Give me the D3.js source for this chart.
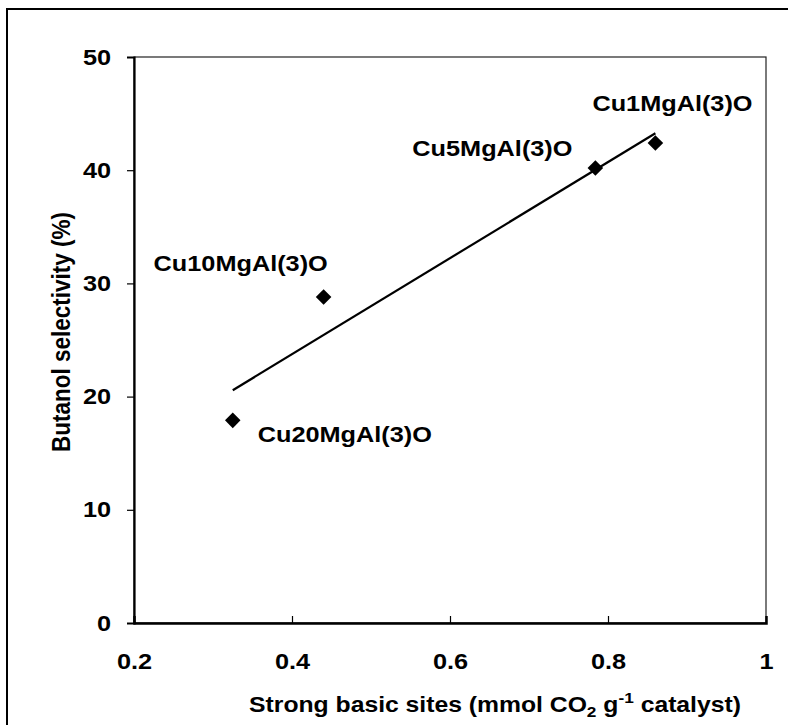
<!DOCTYPE html>
<html>
<head>
<meta charset="utf-8">
<script src="https://cdn.jsdelivr.net/npm/d3@7"></script>
<style>
  html, body { margin: 0; padding: 0; background: #fff; }
  svg { display: block; }
  text { font-family: "Liberation Sans", Arial, sans-serif; font-weight: bold; fill: #000; }
</style>
</head>
<body>
<svg id="chart" width="788" height="725"></svg>
<script>
// Catalyst samples: strong basic sites vs. butanol selectivity
const catalysts = ["Cu1MgAl(3)O", "Cu5MgAl(3)O", "Cu10MgAl(3)O", "Cu20MgAl(3)O"];
const basicSites = [0.86, 0.784, 0.44, 0.325];
const selectivity = [42.4, 40.2, 28.8, 17.9];

const xTicks = [0.2, 0.4, 0.6, 0.8, 1];
const yTicks = [0, 10, 20, 30, 40, 50];

const W = 788, H = 725;
const plot = { left: 134, right: 766, top: 57, bottom: 623 };
const WIDE = 1.15;   // horizontal stretch applied to the lettering

const svg = d3.select("#chart");

// outer frame (runs off the right and bottom edges)
svg.append("rect")
  .attr("x", 7).attr("y", 9)
  .attr("width", W + 20).attr("height", H + 20)
  .attr("fill", "none").attr("stroke", "#000").attr("stroke-width", 2);

const x = d3.scaleLinear().domain([0.2, 1]).range([plot.left, plot.right]);
const y = d3.scaleLinear().domain([0, 50]).range([plot.bottom, plot.top]);

// plot area box
svg.append("rect")
  .attr("x", plot.left).attr("y", plot.top)
  .attr("width", plot.right - plot.left).attr("height", plot.bottom - plot.top)
  .attr("fill", "none").attr("stroke", "#222").attr("stroke-width", 1.2);

// x axis: ticks point up into the plot
const xAxis = d3.axisBottom(x).tickValues(xTicks).tickSize(-7).tickPadding(30)
  .tickFormat(d => String(d));
const gx = svg.append("g").attr("transform", `translate(0,${plot.bottom})`).call(xAxis);
gx.select(".domain").attr("stroke", "#000").attr("stroke-width", 2.5);
gx.selectAll(".tick line").attr("stroke", "#000").attr("stroke-width", 1.2);
gx.selectAll(".tick").filter(d => d === 0.2 || d === 1).select("line").remove();
gx.selectAll(".tick text")
  .attr("font-size", 22).attr("font-family", null)
  .attr("transform", `scale(${WIDE},1)`);

// y axis: ticks point outward
const yAxis = d3.axisLeft(y).tickValues(yTicks).tickSize(7).tickPadding(13)
  .tickFormat(d => String(d));
const gy = svg.append("g").attr("transform", `translate(${plot.left},0)`).call(yAxis);
gy.select(".domain").attr("stroke", "#000").attr("stroke-width", 2.2);
gy.selectAll(".tick line").attr("stroke", "#000").attr("stroke-width", 1.2);
gy.selectAll(".tick").filter(d => d === 0 || d === 50).select("line").remove();
gy.selectAll(".tick text")
  .attr("font-size", 22).attr("font-family", null)
  .attr("transform", `scale(${WIDE},1)`);

// least-squares trend line over the plotted points
const mx = d3.mean(basicSites), my = d3.mean(selectivity);
const sxy = d3.sum(basicSites, (v, i) => (v - mx) * (selectivity[i] - my));
const sxx = d3.sum(basicSites, v => (v - mx) ** 2);
const slope = sxy / sxx, intercept = my - slope * mx;
const trend = d3.extent(basicSites).map(v => [v, intercept + slope * v]);

svg.append("path")
  .datum(trend)
  .attr("d", d3.line().x(d => x(d[0])).y(d => y(d[1])))
  .attr("fill", "none").attr("stroke", "#000").attr("stroke-width", 2.2);

// diamond markers
const points = catalysts.map((c, i) => ({ name: c, bx: basicSites[i], sel: selectivity[i] }));
svg.selectAll("path.marker").data(points).join("path")
  .attr("class", "marker")
  .attr("d", d3.symbol().type(d3.symbolSquare).size(121))
  .attr("transform", d => `translate(${x(d.bx)},${y(d.sel)}) rotate(45)`)
  .attr("fill", "#000");

// sample labels: offset of the text's left baseline point from its marker
const labelOffsets = {
  "Cu1MgAl(3)O": [-63, -32],
  "Cu5MgAl(3)O": [-183, -12],
  "Cu10MgAl(3)O": [-170, -26],
  "Cu20MgAl(3)O": [25, 22]
};
svg.selectAll("text.label").data(points).join("text")
  .attr("class", "label")
  .attr("transform", d =>
    `translate(${x(d.bx) + labelOffsets[d.name][0]},${y(d.sel) + labelOffsets[d.name][1]}) scale(${WIDE},1)`)
  .attr("font-size", 22)
  .text(d => d.name);

// axis titles
const xTitle = svg.append("text")
  .attr("transform", `translate(${(plot.left + plot.right) / 2 + 45},712) scale(${WIDE},1)`)
  .attr("text-anchor", "middle").attr("font-size", 21.5);
xTitle.append("tspan").text("Strong basic sites (mmol CO");
xTitle.append("tspan").attr("font-size", 15).attr("dy", 5).text("2");
xTitle.append("tspan").attr("dy", -5).text(" g");
xTitle.append("tspan").attr("font-size", 15).attr("dy", -9).text("-1");
xTitle.append("tspan").attr("dy", 9).text(" catalyst)");

svg.append("text")
  .attr("transform", `translate(61,${(plot.top + plot.bottom) / 2 - 8}) rotate(-90) scale(1,${WIDE})`)
  .attr("text-anchor", "middle").attr("dy", "0.36em").attr("font-size", 22.5)
  .text("Butanol selectivity (%)");
</script>
</body>
</html>
